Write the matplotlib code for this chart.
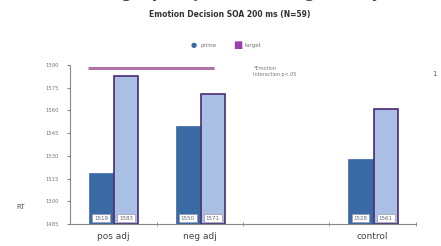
import matplotlib
matplotlib.use("Agg")
import matplotlib.pyplot as plt
import numpy as np

# data
categories = ["pos adj", "neg adj", "", "control"]
prime_rt = [1519, 1550, None, 1528]
target_rt = [1583, 1571, None, 1561]
yticks = [1485, 1500, 1515, 1530, 1545, 1560, 1575, 1590]
series_names = ["prime", "target"]

dark = "#3a6aa3"
light = "#a9bfe4"
edge = "#4a2a72"

fig = plt.figure(figsize=(4.41, 2.46), dpi=100)
ax = fig.add_axes([0.159, 0.089, 0.784, 0.647])

x = np.arange(len(categories))
w = 0.28
for i in range(len(categories)):
    if prime_rt[i] is None:
        continue
    ax.bar(x[i] - 0.14, prime_rt[i] - yticks[0], w, bottom=yticks[0], color=dark, edgecolor=dark, lw=0.5)
    ax.bar(x[i] + 0.15, target_rt[i] - yticks[0], w, bottom=yticks[0], color=light, edgecolor=edge, lw=1.2)
    for xx, v in [(x[i] - 0.14, prime_rt[i]), (x[i] + 0.15, target_rt[i])]:
        ax.text(xx, yticks[0] + 4, str(v), ha="center", va="center", fontsize=4, color="#667",
                bbox=dict(boxstyle="square,pad=0.35", fc="white", ec="#99a", lw=0.5))

# significance line and note
ax.plot([-0.29, 1.16], [1588, 1588], color="#b070a8", lw=2.2, solid_capstyle="butt", clip_on=False)
ax.text(1.62, 1589, "*Emotion\nInteraction p<.05", fontsize=3.5, color="#777", va="top", ha="left")

ax.set_xlim(-0.5, 3.5)
ax.set_ylim(yticks[0], yticks[-1])
ax.set_yticks(yticks)
ax.set_yticklabels([str(t) for t in yticks], fontsize=3.8, color="#777")
ax.set_xticks(x)
ax.set_xticklabels(categories, fontsize=6.5, color="#444")
ax.tick_params(axis="x", length=0, pad=6)
ax.set_xticks([0.5, 1.5, 2.5, 3.5], minor=True)
ax.tick_params(axis="x", which="minor", length=3, direction="inout", color="#888")
ax.tick_params(axis="y", length=2, color="#888", pad=6)
for s in ["top", "right"]:
    ax.spines[s].set_visible(False)
for s in ["left", "bottom"]:
    ax.spines[s].set_color("#888")
    ax.spines[s].set_linewidth(0.8)

fig.text(0.036, 0.16, "RT", fontsize=5, color="#555", va="center")

# titles and legend
fig.text(0.5, 1.035, "Priming by Adjective Congruency", fontsize=14, color="#444",
         ha="center", va="center")
fig.text(0.52, 0.94, "Emotion Decision SOA 200 ms (N=59)", fontsize=5.5, weight="bold",
         color="#333", ha="center", va="center")
fig.text(0.44, 0.817, "\u25cf", fontsize=5, color=dark, ha="center", va="center")
fig.text(0.455, 0.817, series_names[0], fontsize=4, color="#777", ha="left", va="center")
fig.text(0.54, 0.817, "\u25a0", fontsize=7, color="#9b3fb0", ha="center", va="center")
fig.text(0.555, 0.817, series_names[1], fontsize=4, color="#777", ha="left", va="center")
fig.text(0.985, 0.70, "1", fontsize=5, color="#666", ha="center", va="center")

fig.savefig("out.png", dpi=100)
